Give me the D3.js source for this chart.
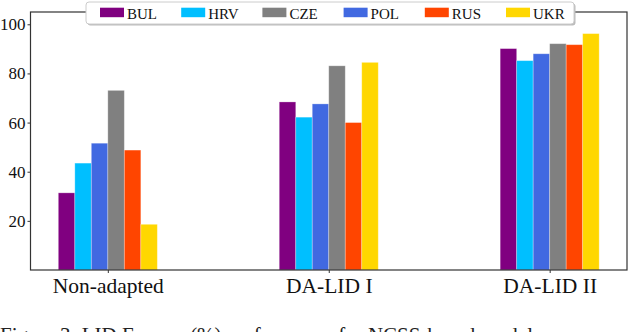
<!DOCTYPE html>
<html lang="en">
<head>
    <meta charset="UTF-8">
    <title>LID F-score by language</title>
    <style>
        body {
            margin: 0;
            background: #fff;
        }

        svg text {
            font-family: "Liberation Serif", serif !important;
        }

        .spine {
            fill: none;
            stroke: #333;
            stroke-width: 1.2px;
        }

        .bar {
            stroke: #fff;
            stroke-opacity: 0.35;
            stroke-width: 0.8px;
        }
    </style>
</head>
<body>
    <div id="chart"></div>
    <script src="https://d3js.org/d3.v7.min.js"></script>
    <script>
        // Data
        const groups = ["Non-adapted", "DA-LID I", "DA-LID II"];
        const barOrder = ["BUL", "HRV", "POL", "CZE", "RUS", "UKR"];
        const legendOrder = ["BUL", "HRV", "CZE", "POL", "RUS", "UKR"];
        const colors = {
            BUL: "#800080",
            HRV: "#00bfff",
            CZE: "#808080",
            POL: "#4169e1",
            RUS: "#ff4500",
            UKR: "#ffd700"
        };
        const BUL = [31.4, 68.4, 90.1];
        const HRV = [43.5, 62.2, 85.2];
        const CZE = [73.1, 83.1, 92.1];
        const POL = [51.6, 67.6, 88.0];
        const RUS = [48.8, 60.0, 91.7];
        const UKR = [18.6, 84.5, 96.2];
        const values = { BUL, HRV, CZE, POL, RUS, UKR };
        const yTicks = [20, 40, 60, 80, 100];

        const W = 632, H = 332;
        const m = { left: 30.5, right: 627, top: 12, bottom: 270 };
        const serif = "Liberation Serif";

        const svg = d3.select("#chart").append("svg")
            .attr("width", W)
            .attr("height", H)
            .attr("font-family", serif);

        const x = d3.scalePoint()
            .domain(groups)
            .range([m.left, m.right])
            .padding(0.35);

        const inner = d3.scaleBand()
            .domain(barOrder)
            .range([-49.5, 49.5]);

        const y = d3.scaleLinear()
            .domain([0, 105])
            .range([m.bottom, m.top]);

        // bars
        const rows = [];
        groups.forEach((g, i) => {
            barOrder.forEach(s => rows.push({ group: g, series: s, value: values[s][i] }));
        });

        svg.append("g").selectAll("rect")
            .data(rows)
            .enter().append("rect")
            .attr("class", "bar")
            .attr("x", d => x(d.group) + inner(d.series))
            .attr("width", inner.bandwidth())
            .attr("y", d => y(d.value))
            .attr("height", d => y(0) - y(d.value))
            .attr("fill", d => colors[d.series]);

        // axes
        const yAxis = svg.append("g")
            .attr("transform", "translate(" + m.left + ",0)")
            .call(d3.axisLeft(y).tickValues(yTicks).tickSize(3).tickPadding(2))
            .attr("font-family", serif)
            .attr("font-size", 17);
        yAxis.select(".domain").remove();
        yAxis.selectAll("line").attr("stroke", "#333");
        yAxis.selectAll("text").attr("fill", "#111");

        const xAxis = svg.append("g")
            .attr("transform", "translate(0," + m.bottom + ")")
            .call(d3.axisBottom(x).tickSize(3).tickPadding(5))
            .attr("font-family", serif)
            .attr("font-size", 21.5);
        xAxis.select(".domain").remove();
        xAxis.selectAll("line").attr("stroke", "#333");
        xAxis.selectAll("text").attr("fill", "#111");

        // frame
        svg.append("rect")
            .attr("class", "spine")
            .attr("x", m.left)
            .attr("y", m.top)
            .attr("width", m.right - m.left)
            .attr("height", m.bottom - m.top);

        // legend
        const lg = svg.append("g").attr("transform", "translate(86,2)");
        lg.append("rect")
            .attr("x", 1.5).attr("y", 1.5)
            .attr("width", 488).attr("height", 22)
            .attr("rx", 3)
            .attr("fill", "#bbb");
        lg.append("rect")
            .attr("width", 488).attr("height", 22)
            .attr("rx", 3)
            .attr("fill", "#fff")
            .attr("stroke", "#ccc")
            .attr("stroke-width", 1);

        const item = lg.selectAll(".item")
            .data(legendOrder)
            .enter().append("g")
            .attr("class", "item")
            .attr("transform", (d, i) => "translate(" + (14 + i * 81.2) + ",0)");
        item.append("rect")
            .attr("y", 5.7)
            .attr("width", 24)
            .attr("height", 9.5)
            .attr("fill", d => colors[d]);
        item.append("text")
            .attr("x", 27)
            .attr("y", 16.5)
            .attr("fill", "#111")
            .attr("font-size", 15)
            .text(d => d);

        // caption, cut off by the crop as in the source page
        svg.append("text")
            .attr("x", 0)
            .attr("y", 342)
            .attr("fill", "#222")
            .attr("font-size", 21)
            .text("Figure 3: LID F-score (%) performance for NCSS-based models");
    </script>
</body>
</html>
